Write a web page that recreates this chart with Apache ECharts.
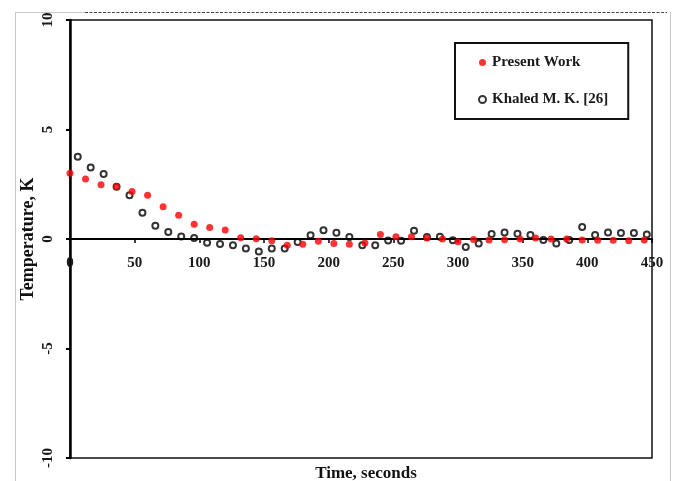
<!DOCTYPE html>
<html>
<head>
<meta charset="utf-8">
<script src="https://cdn.jsdelivr.net/npm/echarts@6/dist/echarts.min.js"></script>
<style>
  html, body { margin: 0; padding: 0; background: #fff; }
  #chart { width: 679px; height: 481px; }
</style>
</head>
<body>
<div id="chart"></div>
<script>
// Present Work: temperature sampled every 12 s
const presentTime = [0, 12, 24, 36, 48, 60, 72, 84, 96, 108, 120, 132, 144, 156, 168, 180, 192, 204, 216, 228,
  240, 252, 264, 276, 288, 300, 312, 324, 336, 348, 360, 372, 384, 396, 408, 420, 432, 444];
const presentTemp = [3.0, 2.74, 2.48, 2.39, 2.17, 2.0, 1.47, 1.08, 0.67, 0.53, 0.41, 0.06, 0.01, -0.08, -0.29, -0.24, -0.1, -0.21, -0.24, -0.18,
  0.21, 0.1, 0.1, 0.04, 0.0, -0.12, -0.02, -0.05, -0.03, 0.0, 0.05, 0.0, 0.0, -0.05, -0.06, -0.06, -0.08, -0.05];

// Khaled M. K. [26]: temperature sampled every 10 s
const khaledTime = [6, 16, 26, 36, 46, 56, 66, 76, 86, 96, 106, 116, 126, 136, 146, 156, 166, 176, 186, 196,
  206, 216, 226, 236, 246, 256, 266, 276, 286, 296, 306, 316, 326, 336, 346, 356, 366, 376, 386, 396,
  406, 416, 426, 436, 446];
const khaledTemp = [3.76, 3.27, 2.97, 2.39, 2.0, 1.2, 0.61, 0.32, 0.11, 0.05, -0.17, -0.23, -0.29, -0.43, -0.57, -0.43, -0.43, -0.14, 0.17, 0.4,
  0.29, 0.09, -0.29, -0.28, -0.07, -0.08, 0.38, 0.09, 0.1, -0.06, -0.36, -0.2, 0.23, 0.3, 0.24, 0.18, -0.05, -0.2, -0.05, 0.55,
  0.18, 0.3, 0.27, 0.27, 0.21];

const xTicks = { min: 0, max: 450, step: 50 };
const yTicks = { min: -10, max: 10, step: 5 };

const pairs = (xs, ys) => xs.map((x, i) => [x, ys[i]]);
const serif = '"Liberation Serif", "Times New Roman", serif';

const gridTop = 20, gridBottom = 23, chartHeight = 481;
const plotHeight = chartHeight - gridTop - gridBottom;
// the time axis crosses the temperature axis at T = 0, labels included
const zeroOffset = -plotHeight * (0 - yTicks.min) / (yTicks.max - yTicks.min);

const chart = echarts.init(document.getElementById('chart'), null, { renderer: 'canvas' });

chart.setOption({
  backgroundColor: '#fff',
  animation: false,
  title: {
    text: 'Time, seconds',
    left: 361,
    textAlign: 'center',
    top: 460,
    textStyle: { fontFamily: serif, fontWeight: 'bold', fontSize: 17, color: '#111' }
  },
  grid: {
    left: 70, right: 27, top: gridTop, bottom: gridBottom,
    show: true, borderColor: '#111', borderWidth: 1.5, backgroundColor: 'transparent'
  },
  legend: {
    orient: 'vertical',
    left: 455, top: 43,
    padding: [12, 20, 12, 23],
    itemGap: 22,
    itemWidth: 7, itemHeight: 7,
    borderColor: '#111', borderWidth: 2,
    backgroundColor: '#fff',
    textStyle: { fontFamily: serif, fontWeight: 'bold', fontSize: 15, color: '#1a1a1a', padding: [0, 0, 0, 1] },
    data: [
      { name: 'Present Work', icon: 'circle' },
      { name: 'Khaled M. K. [26]', icon: 'circle' }
    ]
  },
  xAxis: {
    type: 'value',
    position: 'bottom',
    offset: zeroOffset,
    min: xTicks.min, max: xTicks.max, interval: xTicks.step,
    axisLine: { onZero: false, lineStyle: { color: '#000', width: 2 } },
    axisTick: { show: true, inside: false, length: 4, lineStyle: { color: '#000', width: 1.5 } },
    axisLabel: { margin: 17, fontFamily: serif, fontWeight: 'bold', fontSize: 15, color: '#1a1a1a' },
    splitLine: { show: false }
  },
  yAxis: {
    type: 'value',
    min: yTicks.min, max: yTicks.max, interval: yTicks.step,
    name: 'Temperature, K',
    nameLocation: 'middle',
    nameGap: 33,
    nameMoveOverlap: false,
    nameRotate: 90,
    nameTextStyle: { fontFamily: serif, fontWeight: 'bold', fontSize: 18, color: '#111' },
    axisLine: { show: true, onZero: false, lineStyle: { color: '#000', width: 2.5 } },
    axisTick: { show: true, inside: false, length: 4, lineStyle: { color: '#000', width: 2 } },
    axisLabel: { rotate: 90, margin: 14, fontFamily: serif, fontWeight: 'bold', fontSize: 15, color: '#1a1a1a' },
    splitLine: { show: false }
  },
  series: [
    {
      name: 'Present Work',
      type: 'scatter',
      z: 3,
      symbol: 'circle',
      symbolSize: 7,
      itemStyle: { color: '#ff0000' },
      data: pairs(presentTime, presentTemp)
    },
    {
      name: 'Khaled M. K. [26]',
      type: 'scatter',
      z: 2,
      symbol: 'circle',
      symbolSize: 6,
      itemStyle: { color: 'rgba(255,255,255,0)', borderColor: '#000', borderWidth: 2 },
      data: pairs(khaledTime, khaledTemp)
    }
  ],
  graphic: [
    // page frame around the figure
    { type: 'line', shape: { x1: 15, y1: 12.5, x2: 85, y2: 12.5 }, style: { stroke: '#c8c8c8', lineWidth: 1 } },
    { type: 'line', shape: { x1: 85, y1: 12.5, x2: 667, y2: 12.5 }, style: { stroke: '#444', lineWidth: 1, lineDash: [3, 1.5] } },
    { type: 'line', shape: { x1: 15.5, y1: 12, x2: 15.5, y2: 481 }, style: { stroke: '#c8c8c8', lineWidth: 1 } },
    { type: 'line', shape: { x1: 670.5, y1: 12, x2: 670.5, y2: 481 }, style: { stroke: '#c8c8c8', lineWidth: 1 } }
  ]
});
</script>
</body>
</html>
